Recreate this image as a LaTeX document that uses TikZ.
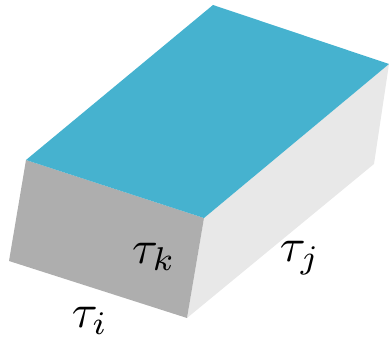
\documentclass[tikz,border=0pt]{standalone}
\tikzset{
  face/.style={draw=none},
  lbl/.style={inner sep=0pt, scale=4.7}
}
\definecolor{topc}{HTML}{46B2CF}
\definecolor{frontc}{HTML}{AEAEAE}
\definecolor{sidec}{HTML}{E8E8E8}
\begin{document}
\begin{tikzpicture}[x=1pt,y=-1pt]
\useasboundingbox (0,0) rectangle (389,344);
\coordinate (tl) at (26,160);
\coordinate (tb) at (213,5);
\coordinate (tr) at (389,64);
\coordinate (tf) at (204,218);
\coordinate (bl) at (9,261);
\coordinate (bf) at (187,318);
\coordinate (br) at (374,164);
\fill[face,sidec] (tf) -- (tr) -- (br) -- (bf) -- cycle;
\fill[face,frontc] (tl) -- (tf) -- (bf) -- (bl) -- cycle;
\fill[face,topc] (tl) -- (tb) -- (tr) -- (tf) -- cycle;
\node[lbl] (k) at (154,257) {$\tau_k$};
\node[lbl] (j) at (300,258) {$\tau_j$};
\node[lbl] (i) at (90,321) {$\tau_i$};
\end{tikzpicture}
\end{document}
